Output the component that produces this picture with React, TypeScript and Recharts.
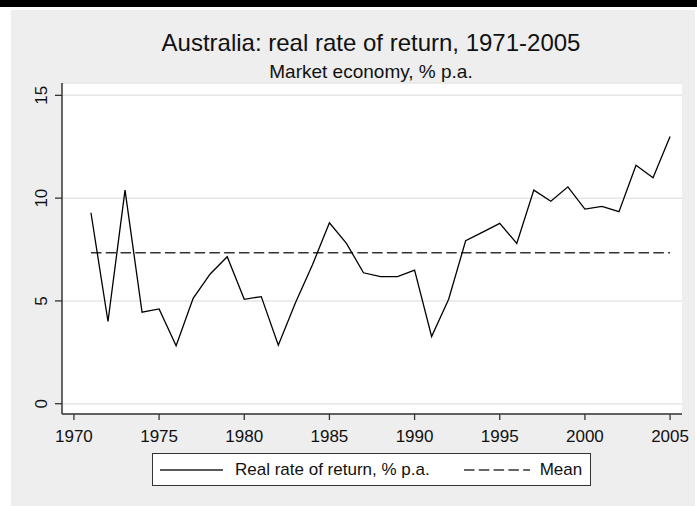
import React from "react"
import { LineChart, CartesianGrid, XAxis, YAxis, Line, Legend } from "recharts"

// values
const years: number[] = [
  1971, 1972, 1973, 1974, 1975, 1976, 1977, 1978, 1979, 1980, 1981, 1982,
  1983, 1984, 1985, 1986, 1987, 1988, 1989, 1990, 1991, 1992, 1993, 1994,
  1995, 1996, 1997, 1998, 1999, 2000, 2001, 2002, 2003, 2004, 2005,
]
const realReturn: number[] = [
  9.29, 4.0, 10.39, 4.45, 4.61, 2.82, 5.13, 6.31, 7.15, 5.08, 5.21, 2.85,
  4.9, 6.75, 8.8, 7.8, 6.37, 6.18, 6.18, 6.5, 3.27, 5.08, 7.93, 8.35,
  8.77, 7.8, 10.39, 9.85, 10.55, 9.47, 9.6, 9.34, 11.6, 10.99, 13.0,
]
const meanValue = 7.34
const xTicks: number[] = [1970, 1975, 1980, 1985, 1990, 1995, 2000, 2005]
const yTicks: number[] = [0, 5, 10, 15]

const title = "Australia: real rate of return, 1971-2005"
const subtitle = "Market economy, % p.a."
const seriesName = "Real rate of return, % p.a."
const meanName = "Mean"

const data = years.map((year, i) => ({
  year,
  real: realReturn[i],
  mean: meanValue,
}))

const FONT = "'Liberation Sans', Arial, Helvetica, sans-serif"

// rotated y tick labels, stata style
const YTick = (props: any) => {
  const { x, y, payload } = props
  return (
    <text
      x={x}
      y={y}
      transform={`rotate(-90, ${x}, ${y})`}
      textAnchor="middle"
      fontSize={17}
      fontFamily={FONT}
      fill="#111"
    >
      {payload.value}
    </text>
  )
}

const LegendBox = () => (
  <div
    style={{
      width: 437,
      height: 31,
      border: "1px solid #333",
      background: "#fff",
      display: "flex",
      alignItems: "center",
      fontFamily: FONT,
      fontSize: 17,
      color: "#111",
      boxSizing: "content-box",
    }}
  >
    <svg width={63} height={4} style={{ marginLeft: 7 }}>
      <line x1={0} x2={63} y1={2} y2={2} stroke="#222" strokeWidth={1.3} />
    </svg>
    <span style={{ marginLeft: 12 }}>{seriesName}</span>
    <svg width={66} height={4} style={{ marginLeft: 34 }}>
      <line
        x1={0}
        x2={66}
        y1={2}
        y2={2}
        stroke="#333"
        strokeWidth={1.3}
        strokeDasharray="10.5 4.3"
      />
    </svg>
    <span style={{ marginLeft: 10 }}>{meanName}</span>
  </div>
)

export default function App() {
  return (
    <div
      style={{
        position: "absolute",
        left: 0,
        top: 0,
        width: 697,
        height: 506,
        background: "#fff",
        overflow: "hidden",
      }}
    >
      {/* black band at top */}
      <div style={{ position: "absolute", left: 0, top: 0, width: 697, height: 7, background: "#000" }} />
      {/* graph region */}
      <div style={{ position: "absolute", left: 11, top: 10, width: 684, height: 496, background: "#eeeeee" }} />

      <div style={{ position: "absolute", left: 0, top: 0 }}>
        <LineChart
          width={697}
          height={506}
          data={data}
          margin={{ top: 83, right: 15, bottom: 62, left: 12 }}
        >
          <CartesianGrid vertical={false} stroke="#e6e6e6" strokeWidth={1.5} fill="#fff" />
          <XAxis
            dataKey="year"
            type="number"
            domain={[1969.3, 2005.7]}
            ticks={xTicks}
            allowDataOverflow
            height={30}
            tickSize={6}
            tickMargin={10}
            axisLine={{ stroke: "#333", strokeWidth: 1.5 }}
            tickLine={{ stroke: "#333", strokeWidth: 1.3 }}
            tick={{ fontSize: 17, fontFamily: FONT, fill: "#111" }}
          />
          <YAxis
            type="number"
            domain={[-0.5, 15.6]}
            ticks={yTicks}
            allowDataOverflow
            width={50}
            tickSize={7}
            tickMargin={8}
            axisLine={{ stroke: "#333", strokeWidth: 1.5 }}
            tickLine={{ stroke: "#333", strokeWidth: 1.3 }}
            tick={<YTick />}
          />
          <Legend
            layout="horizontal"
            verticalAlign="middle"
            align="center"
            content={() => <LegendBox />}
            wrapperStyle={{ position: "absolute", left: 152, top: 453, width: 439, height: 33 }}
          />
          <Line
            type="linear"
            dataKey="mean"
            stroke="#333"
            strokeWidth={1.4}
            strokeDasharray="10.5 4.3"
            dot={false}
            activeDot={false}
            isAnimationActive={false}
          />
          <Line
            type="linear"
            dataKey="real"
            stroke="#000"
            strokeWidth={1.3}
            dot={false}
            activeDot={false}
            isAnimationActive={false}
          />
        </LineChart>
      </div>

      {/* titles */}
      <svg
        width={697}
        height={90}
        style={{ position: "absolute", left: 0, top: 0, pointerEvents: "none" }}
      >
        <text x={371} y={51} textAnchor="middle" fontSize={24} fontFamily={FONT} fill="#111">
          {title}
        </text>
        <text x={371} y={77.5} textAnchor="middle" fontSize={19} fontFamily={FONT} fill="#111">
          {subtitle}
        </text>
      </svg>
    </div>
  )
}
